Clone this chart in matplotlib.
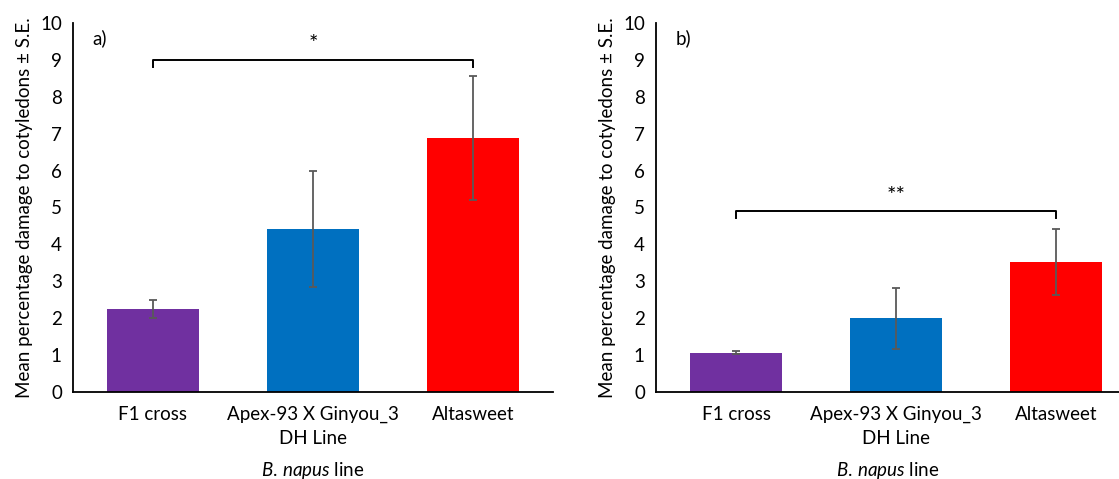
import matplotlib
matplotlib.use("Agg")
import matplotlib.pyplot as plt
import numpy as np

plt.rcParams['font.family'] = ['Lato', 'DejaVu Sans']
plt.rcParams['mathtext.fontset'] = 'custom'
plt.rcParams['mathtext.rm'] = 'Lato'
plt.rcParams['mathtext.it'] = 'Lato:italic'

categories = ["F1 cross", "Apex-93 X Ginyou_3\nDH Line", "Altasweet"]
colors = ["#7030A0", "#0070C0", "#FF0000"]

means_a = [2.25, 4.42, 6.88]
se_a = [0.25, 1.57, 1.68]
means_b = [1.07, 2.00, 3.53]
se_b = [0.05, 0.83, 0.90]

# significance brackets: (left bar, right bar, height, label)
sig_a = (0, 2, 9.0, "*")
sig_b = (0, 2, 4.9, "**")

FS = 13.5

fig = plt.figure(figsize=(11.19, 4.79), dpi=100)
ax_a = fig.add_axes([73/1119, 1-392/479, 480/1119, 369/479])
ax_b = fig.add_axes([656/1119, 1-392/479, 463/1119, 369/479])


def draw_panel(ax, means, se, sig, tag, xmax):
    x = np.arange(len(categories))
    ax.bar(x, means, width=0.57, color=colors, zorder=2)
    ax.errorbar(x, means, yerr=se, fmt='none', ecolor='#595959',
                elinewidth=1.3, capsize=3, capthick=1.3, zorder=3)
    i, j, h, lab = sig
    ax.plot([x[i], x[i], x[j], x[j]], [h - 0.18, h, h, h - 0.18],
            color='black', lw=1.4, zorder=4)
    ax.text((x[i] + x[j]) / 2, h + 0.15, lab, ha='center', va='bottom', fontsize=16)
    ax.text(-0.38, 9.6, tag, ha='left', va='center', fontsize=FS)
    ax.set_xlim(-0.5, xmax)
    ax.set_ylim(0, 10)
    ax.set_yticks(range(0, 11))
    ax.set_xticks(x)
    ax.set_xticklabels(categories, fontsize=FS, linespacing=1.5)
    ax.tick_params(axis='both', length=0, labelsize=FS, colors='black')
    ax.tick_params(axis='x', pad=10)
    ax.tick_params(axis='y', pad=8)
    for s in ['top', 'right']:
        ax.spines[s].set_visible(False)
    ax.spines['left'].set_linewidth(1.3)
    ax.spines['bottom'].set_linewidth(1.3)
    ax.set_ylabel("Mean percentage damage to cotyledons ± S.E.", fontsize=FS, labelpad=5)
    ax.set_xlabel(r"$\mathit{B.\,napus}$ line", fontsize=FS, labelpad=9)


draw_panel(ax_a, means_a, se_a, sig_a, "a)", 2.5)
draw_panel(ax_b, means_b, se_b, sig_b, "b)", -0.5 + 463/160)

fig.savefig("out.png", dpi=100)
